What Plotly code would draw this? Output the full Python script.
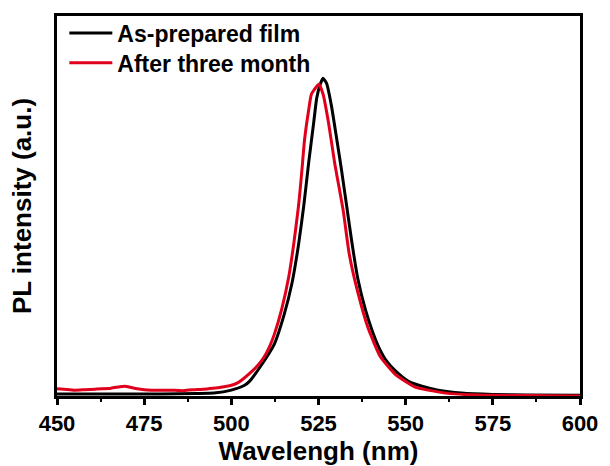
import plotly.graph_objects as go

# As-prepared film
wl_fresh = [450, 460, 470, 480, 490, 495, 500, 503.8, 505.2, 508.3, 512.3, 515.1, 517.4,
            519.3, 520.8, 522.2, 523.6, 524.5, 525.5, 526.3, 527.3, 528.7, 530.3, 531.6,
            533.0, 534.6, 536.3, 538.5, 540.5, 542.3, 544.5, 547.0, 550.8, 554.7, 559.3,
            566.0, 575.0, 585.0, 600.0]
pl_fresh = [2, 2, 2, 2, 2.5, 3, 6, 11, 15, 30, 53, 83, 116,
            156, 196, 240, 280, 306, 320, 326, 321, 298, 262, 232,
            197, 157, 120, 88, 66, 50, 36, 26, 15, 10, 6,
            3, 1.5, 1, 0.8]

# After three month
wl_aged = [450, 452, 455, 458, 461, 465.5, 468, 469.5, 471, 473, 477, 482.5, 486, 489,
           492, 494.7, 497, 499.5, 501.8, 503.2, 505.5, 507.5, 509.4, 511, 512.3, 514.5,
           516.5, 517.9, 519.3, 520.2, 521.0, 522.2, 523.0, 525.1, 526.3, 527.9, 529.6,
           532.1, 533.8, 536.3, 539.2, 542.8, 547.1, 550.8, 552.7, 556.4, 562.1, 570.6,
           585.0, 600.0]
pl_aged = [7.5, 7, 6, 6.5, 7, 8, 9.5, 10, 9, 7.5, 6, 6, 5.5, 6.5,
           7, 8, 9, 10.5, 13.5, 17, 24, 31, 40, 51, 63, 90,
           123, 156, 196, 230, 263, 294, 310, 320, 310, 280, 240,
           190, 146, 106, 70, 40, 22, 13, 9, 6, 2.7, 1,
           0.4, 0]

x_ticks = [450, 475, 500, 525, 550, 575, 600]

FONT = "Liberation Sans, Arial, sans-serif"
leg_font = dict(family=FONT, size=23, color="black", weight="bold")

fig = go.Figure()
fig.add_trace(go.Scatter(x=wl_fresh, y=pl_fresh, mode="lines", name="As-prepared film",
                         legend="legend",
                         line=dict(color="#000000", width=3, shape="spline", smoothing=0.5)))
fig.add_trace(go.Scatter(x=wl_aged, y=pl_aged, mode="lines", name="After three month",
                         legend="legend2",
                         line=dict(color="#E0001B", width=3, shape="spline", smoothing=0.5)))

fig.update_layout(
    width=610, height=466,
    margin=dict(l=57, r=23, t=13, b=63),
    paper_bgcolor="white", plot_bgcolor="white",
    font=dict(family=FONT, color="black"),
    showlegend=True,
    legend=dict(x=0.014, y=0.955, xanchor="left", yanchor="middle",
                bgcolor="rgba(0,0,0,0)", borderwidth=0, font=leg_font, itemwidth=43),
    legend2=dict(x=0.014, y=0.877, xanchor="left", yanchor="middle",
                 bgcolor="rgba(0,0,0,0)", borderwidth=0, font=leg_font, itemwidth=43),
    xaxis=dict(range=[450, 600], tickvals=x_ticks, ticktext=[str(v) for v in x_ticks],
               ticks="outside", ticklen=6, tickwidth=2.5, tickcolor="black",
               minor=dict(ticks="outside", ticklen=3, tickwidth=2, dtick=12.5,
                          tick0=450, tickcolor="black", showgrid=False),
               showline=True, linewidth=2.5, linecolor="black", mirror=True,
               showgrid=False, zeroline=False,
               tickfont=dict(family=FONT, size=22, color="black", weight="bold"),
               title=dict(text="Wavelengh (nm)", standoff=0,
                          font=dict(family=FONT, size=26, color="black", weight="bold"))),
    yaxis=dict(range=[0, 390], showticklabels=False, ticks="",
               showline=True, linewidth=2.5, linecolor="black", mirror=True,
               showgrid=False, zeroline=False,
               title=dict(text="PL intensity (a.u.)", standoff=16,
                          font=dict(family=FONT, size=26, color="black", weight="bold"))),
)

fig.write_html("out.html", config={"displayModeBar": False},
               post_script="document.body.style.margin='0';document.body.style.overflow='hidden';")
